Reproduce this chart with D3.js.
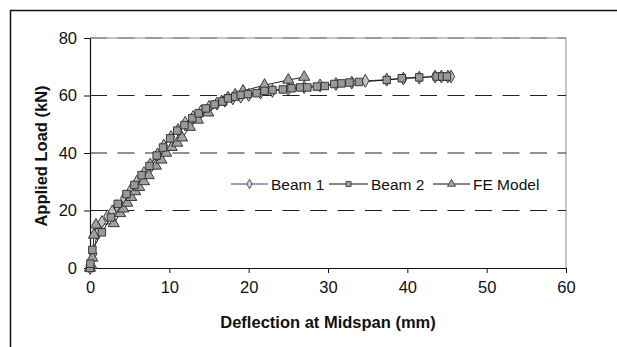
<!DOCTYPE html>
<html><head><meta charset="utf-8">
<script src="https://cdn.jsdelivr.net/npm/d3@7"></script>
<style>
html,body{margin:0;padding:0;background:#fff;}
text{font-family:"Liberation Sans",Arial,sans-serif;}
</style></head>
<body>
<svg id="chart" width="617" height="347"></svg>
<script>
const beam1X = [0, 0.4, 0.9, 1.5, 2.2, 2.8, 3.4, 4.3, 5.1, 5.9, 6.8, 7.6, 8.5, 9.3, 10.2, 11.1, 12.0, 13.0, 14.0, 15.0, 16.0, 17.0, 18.0, 19.0, 20.0, 21.5, 23, 25, 27, 29, 31, 33, 34.7, 37.4, 39.5, 41.5, 43.5, 44.3, 45.1, 45.5];
const beam1Y = [0, 4.9, 12, 16, 18, 19.6, 21.5, 24.2, 27, 30, 33, 36, 39.5, 42.5, 45.5, 48, 50.5, 52.5, 54.5, 56, 57.2, 58.2, 59, 59.6, 60.2, 61, 61.6, 62.3, 62.9, 63.5, 64, 64.5, 65.1, 65.5, 65.9, 66.2, 66.6, 66.6, 66.6, 66.6];
const beam2X = [0, 0.05, 0.3, 1.5, 2.65, 3.5, 4.6, 5.6, 6.5, 7.5, 8.4, 9.2, 10.1, 11, 11.9, 12.9, 13.7, 14.6, 15.7, 16.7, 17.4, 18.3, 19, 19.9, 21, 22, 23, 24.3, 25.4, 26.5, 27.4, 28.6, 29.6, 30.8, 31.7, 32.7, 33.9, 37.4, 39.3, 41.5, 43.7, 44.4, 45.0];
const beam2Y = [0, 1.5, 6.3, 12.4, 17.6, 22.3, 25.7, 28.9, 32.3, 35.5, 39.1, 41.9, 45.1, 47.8, 49.7, 52.1, 53.8, 55.5, 56.9, 57.9, 59, 59.6, 60.2, 60.5, 60.8, 61.6, 61.9, 62.1, 62.5, 62.8, 62.8, 63.1, 63.3, 64, 64.2, 64.5, 64.7, 65.4, 66, 66.3, 66.6, 66.6, 66.6];
const feX = [0, 0.15, 0.3, 0.5, 0.75, 3.0, 3.8, 4.2, 4.7, 5.2, 5.7, 6.2, 6.8, 7.4, 8.3, 9.0, 9.6, 10.3, 11.0, 11.6, 12.6, 13.6, 14.9, 16.6, 17.4, 18.3, 19.3, 22, 25, 27];
const feY = [0, 1, 3.5, 11.5, 15, 15.5, 19, 20.6, 22.6, 24.6, 26.6, 28.1, 30.1, 32.2, 35.5, 37.6, 40, 42, 43.5, 45.3, 49, 51.5, 54, 57.9, 59.2, 60.2, 61.6, 63.6, 65.4, 66.4];
const seriesNames = ["Beam 1", "Beam 2", "FE Model"];
const xTicks = [0, 10, 20, 30, 40, 50, 60];
const yTicks = [0, 20, 40, 60, 80];
const xTitle = "Deflection at Midspan (mm)";
const yTitle = "Applied Load (kN)";

const svg = d3.select("#chart");
const x = d3.scaleLinear().domain([0, 60]).range([90, 566]);
const y = d3.scaleLinear().domain([0, 80]).range([268, 38]);

// outer frame
svg.append("path").attr("d", "M10.5,347 L10.5,10.5 L617,10.5").attr("fill", "none").attr("stroke", "#111").attr("stroke-width", 1.5);

// plot border (top and right, grey)
svg.append("line").attr("x1", x(0)).attr("x2", x(60)).attr("y1", y(80)).attr("y2", y(80)).attr("stroke", "#b0b0b0").attr("stroke-width", 1.5);
svg.append("line").attr("x1", x(60)).attr("x2", x(60)).attr("y1", y(80)).attr("y2", y(0)).attr("stroke", "#a0a0a0").attr("stroke-width", 1.2);

// gridlines
svg.append("g").selectAll("line").data(yTicks.filter(d => d > 0)).join("line")
  .attr("x1", x(0)).attr("x2", x(60)).attr("y1", d => y(d)).attr("y2", d => y(d))
  .attr("stroke", d => d === 80 ? "#777" : "#222").attr("stroke-width", 1)
  .attr("stroke-dasharray", "17,10.5");

// axes
const xAxis = d3.axisBottom(x).tickValues(xTicks).tickSize(5).tickPadding(8).tickSizeOuter(0);
const gx = svg.append("g").attr("transform", `translate(0,${y(0)})`).call(xAxis);
const yAxis = d3.axisLeft(y).tickValues(yTicks).tickSize(6).tickPadding(7).tickSizeOuter(0);
const gy = svg.append("g").attr("transform", `translate(${x(0)},0)`).call(yAxis);
[gx, gy].forEach(g => {
  g.select(".domain").attr("stroke", "#111").attr("stroke-width", 1.2);
  g.selectAll(".tick line").attr("stroke", "#111");
  g.selectAll("text").attr("font-size", 16.5).attr("fill", "#111").attr("font-family", "Liberation Sans, Arial, sans-serif");
});

// titles
svg.append("text").attr("x", 328).attr("y", 328).attr("text-anchor", "middle")
  .attr("font-size", 16.5).attr("font-weight", "bold").attr("fill", "#111").text(xTitle);
svg.append("text").attr("transform", "translate(47,156) rotate(-90)").attr("text-anchor", "middle")
  .attr("font-size", 16.5).attr("font-weight", "bold").attr("fill", "#111").text(yTitle);

const line = d3.line().x(d => x(d[0])).y(d => y(d[1]));
const series = [
  {name: seriesNames[0], pts: d3.zip(beam1X, beam1Y), stroke: "#3a3aa0", sym: d3.symbolDiamond, size: 48, fill: "#c4c4c4"},
  {name: seriesNames[2], pts: d3.zip(feX, feY), stroke: "#222", sym: d3.symbolTriangle, size: 54, fill: "#a0a0a0"},
  {name: seriesNames[1], pts: d3.zip(beam2X, beam2Y), stroke: "#111", sym: d3.symbolSquare, size: 56, fill: "#999"}
];
series.forEach(s => {
  svg.append("path").datum(s.pts).attr("d", line).attr("fill", "none").attr("stroke", s.stroke).attr("stroke-width", 1);
});
series.forEach(s => {
  svg.append("g").selectAll("path").data(s.pts).join("path")
    .attr("d", d3.symbol().type(s.sym).size(s.size))
    .attr("transform", d => `translate(${x(d[0])},${y(d[1])})`)
    .attr("fill", s.fill).attr("stroke", "#2a2a2a").attr("stroke-width", 0.9);
});

// legend
const legendItems = [
  {name: seriesNames[0], x1: 231, x2: 268, stroke: "#3a3aa0", sym: d3.symbolDiamond, size: 26, fill: "#d0d0d0"},
  {name: seriesNames[1], x1: 329, x2: 368, stroke: "#111", sym: d3.symbolSquare, size: 26, fill: "#999"},
  {name: seriesNames[2], x1: 433, x2: 470, stroke: "#111", sym: d3.symbolTriangle, size: 28, fill: "#a0a0a0"}
];
const ly = 184;
legendItems.forEach(it => {
  svg.append("line").attr("x1", it.x1).attr("x2", it.x2).attr("y1", ly).attr("y2", ly).attr("stroke", it.stroke).attr("stroke-width", 1);
  svg.append("path").attr("d", d3.symbol().type(it.sym).size(it.size)()).attr("transform", `translate(${(it.x1 + it.x2) / 2},${ly})`)
    .attr("fill", it.fill).attr("stroke", "#333").attr("stroke-width", 0.8);
  svg.append("text").attr("x", it.x2 + 3).attr("y", ly + 6).attr("font-size", 15.5).attr("fill", "#111").text(it.name);
});
</script>
</body></html>
